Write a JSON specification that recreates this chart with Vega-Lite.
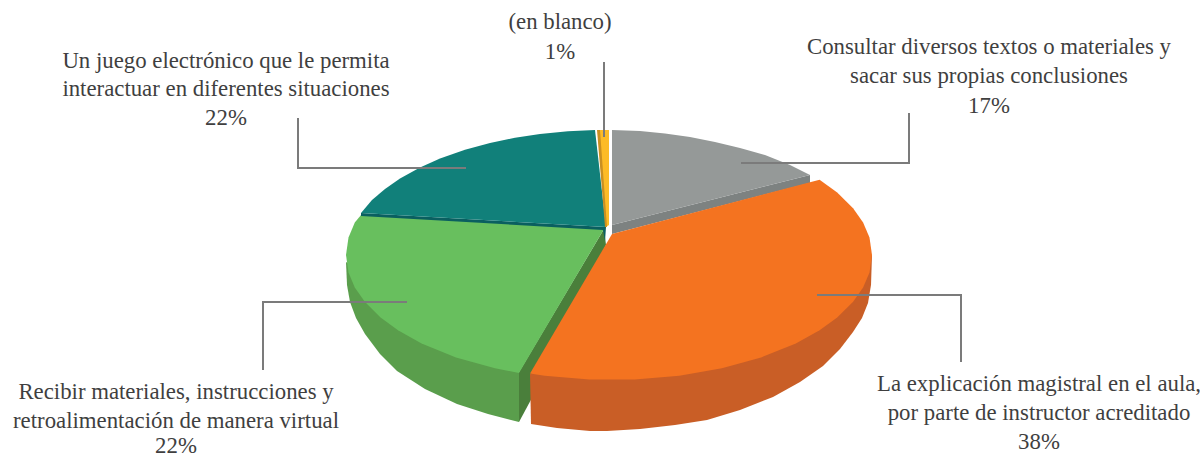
{
  "$schema": "https://vega.github.io/schema/vega-lite/v6.json",
  "width": 1200,
  "height": 459,
  "padding": 0,
  "autosize": "none",
  "background": "white",
  "view": {"stroke": null},
  "datasets": {
    "contornos": [
      {"pieza":"gris lateral","n":1,"x":612,"y":225},{"pieza":"gris lateral","n":2,"x":810,"y":175},{"pieza":"gris lateral","n":3,"x":810,"y":183},{"pieza":"gris lateral","n":4,"x":612,"y":234},
      {"pieza":"gris","n":1,"x":612,"y":130},{"pieza":"gris","n":2,"x":640,"y":131},{"pieza":"gris","n":3,"x":665,"y":133.5},{"pieza":"gris","n":4,"x":690,"y":137},{"pieza":"gris","n":5,"x":715,"y":142},{"pieza":"gris","n":6,"x":740,"y":148},{"pieza":"gris","n":7,"x":765,"y":155},{"pieza":"gris","n":8,"x":790,"y":165},{"pieza":"gris","n":9,"x":810,"y":175},{"pieza":"gris","n":10,"x":612,"y":225},
      {"pieza":"verde exterior","n":1,"x":346,"y":262},{"pieza":"verde exterior","n":2,"x":519,"y":372},{"pieza":"verde exterior","n":3,"x":519,"y":422},{"pieza":"verde exterior","n":4,"x":488,"y":414},{"pieza":"verde exterior","n":5,"x":457,"y":404},{"pieza":"verde exterior","n":6,"x":425,"y":389},{"pieza":"verde exterior","n":7,"x":397,"y":371},{"pieza":"verde exterior","n":8,"x":380,"y":354},{"pieza":"verde exterior","n":9,"x":365,"y":334},{"pieza":"verde exterior","n":10,"x":356,"y":318},{"pieza":"verde exterior","n":11,"x":350,"y":302},{"pieza":"verde exterior","n":12,"x":347,"y":285},
      {"pieza":"verde interior","n":1,"x":604,"y":229},{"pieza":"verde interior","n":2,"x":519,"y":372},{"pieza":"verde interior","n":3,"x":519,"y":422},{"pieza":"verde interior","n":4,"x":533,"y":396},{"pieza":"verde interior","n":5,"x":606,"y":245},
      {"pieza":"verde","n":1,"x":361,"y":215},{"pieza":"verde","n":2,"x":354.8,"y":222.6},{"pieza":"verde","n":3,"x":348.5,"y":237.6},{"pieza":"verde","n":4,"x":346,"y":255},{"pieza":"verde","n":5,"x":348.5,"y":272.4},{"pieza":"verde","n":6,"x":354.8,"y":287.4},{"pieza":"verde","n":7,"x":364.8,"y":301.8},{"pieza":"verde","n":8,"x":380.6,"y":317.5},{"pieza":"verde","n":9,"x":398,"y":330.2},{"pieza":"verde","n":10,"x":421.6,"y":343.4},{"pieza":"verde","n":11,"x":456,"y":357.4},{"pieza":"verde","n":12,"x":495,"y":368.3},{"pieza":"verde","n":13,"x":519,"y":373},{"pieza":"verde","n":14,"x":604,"y":229},
      {"pieza":"verde azulado lateral","n":1,"x":361,"y":213},{"pieza":"verde azulado lateral","n":2,"x":606,"y":227},{"pieza":"verde azulado lateral","n":3,"x":605,"y":241},{"pieza":"verde azulado lateral","n":4,"x":603,"y":230},{"pieza":"verde azulado lateral","n":5,"x":361,"y":216},
      {"pieza":"verde azulado","n":1,"x":595,"y":130},{"pieza":"verde azulado","n":2,"x":568,"y":131.2},{"pieza":"verde azulado","n":3,"x":540,"y":133.9},{"pieza":"verde azulado","n":4,"x":515,"y":137.7},{"pieza":"verde azulado","n":5,"x":490,"y":143},{"pieza":"verde azulado","n":6,"x":465,"y":149.7},{"pieza":"verde azulado","n":7,"x":440,"y":158.5},{"pieza":"verde azulado","n":8,"x":420,"y":167.4},{"pieza":"verde azulado","n":9,"x":400,"y":178.5},{"pieza":"verde azulado","n":10,"x":385,"y":188.9},{"pieza":"verde azulado","n":11,"x":372,"y":200},{"pieza":"verde azulado","n":12,"x":361,"y":213},{"pieza":"verde azulado","n":13,"x":606,"y":227},
      {"pieza":"naranja lateral","n":1,"x":872,"y":255},{"pieza":"naranja lateral","n":2,"x":530,"y":374},{"pieza":"naranja lateral","n":3,"x":531,"y":424},{"pieza":"naranja lateral","n":4,"x":557,"y":428},{"pieza":"naranja lateral","n":5,"x":590,"y":431},{"pieza":"naranja lateral","n":6,"x":607,"y":431},{"pieza":"naranja lateral","n":7,"x":640,"y":429},{"pieza":"naranja lateral","n":8,"x":675,"y":425},{"pieza":"naranja lateral","n":9,"x":707,"y":420},{"pieza":"naranja lateral","n":10,"x":740,"y":410},{"pieza":"naranja lateral","n":11,"x":773,"y":397},{"pieza":"naranja lateral","n":12,"x":800,"y":382},{"pieza":"naranja lateral","n":13,"x":823,"y":366},{"pieza":"naranja lateral","n":14,"x":840,"y":349},{"pieza":"naranja lateral","n":15,"x":853,"y":332},{"pieza":"naranja lateral","n":16,"x":862,"y":318},{"pieza":"naranja lateral","n":17,"x":868,"y":303},{"pieza":"naranja lateral","n":18,"x":871,"y":285},
      {"pieza":"naranja","n":1,"x":612,"y":234},{"pieza":"naranja","n":2,"x":819.6,"y":179.8},{"pieza":"naranja","n":3,"x":837.2,"y":192.5},{"pieza":"naranja","n":4,"x":853.1,"y":208.2},{"pieza":"naranja","n":5,"x":863.1,"y":222.6},{"pieza":"naranja","n":6,"x":869.5,"y":237.6},{"pieza":"naranja","n":7,"x":872,"y":255},{"pieza":"naranja","n":8,"x":869.5,"y":272.4},{"pieza":"naranja","n":9,"x":863.1,"y":287.4},{"pieza":"naranja","n":10,"x":853.1,"y":301.8},{"pieza":"naranja","n":11,"x":837.2,"y":317.5},{"pieza":"naranja","n":12,"x":819.6,"y":330.2},{"pieza":"naranja","n":13,"x":795.8,"y":343.4},{"pieza":"naranja","n":14,"x":761.1,"y":357.4},{"pieza":"naranja","n":15,"x":721.9,"y":368.3},{"pieza":"naranja","n":16,"x":679.3,"y":375.7},{"pieza":"naranja","n":17,"x":634.7,"y":379.5},{"pieza":"naranja","n":18,"x":589.3,"y":379.5},{"pieza":"naranja","n":19,"x":544.7,"y":375.7},{"pieza":"naranja","n":20,"x":530,"y":373.6},
      {"pieza":"amarillo","n":1,"x":599,"y":130},{"pieza":"amarillo","n":2,"x":609,"y":130},{"pieza":"amarillo","n":3,"x":609,"y":225},{"pieza":"amarillo","n":4,"x":606,"y":227},
      {"pieza":"amarillo lateral","n":1,"x":597,"y":130},{"pieza":"amarillo lateral","n":2,"x":600,"y":130},{"pieza":"amarillo lateral","n":3,"x":607,"y":227},{"pieza":"amarillo lateral","n":4,"x":605,"y":227}
    ],
    "guias": [
      {"guia":"gris","n":1,"x":741,"y":163},{"guia":"gris","n":2,"x":909,"y":163},{"guia":"gris","n":3,"x":909,"y":113},
      {"guia":"teal","n":1,"x":466,"y":168},{"guia":"teal","n":2,"x":298,"y":168},{"guia":"teal","n":3,"x":298,"y":118},
      {"guia":"verde","n":1,"x":407,"y":302},{"guia":"verde","n":2,"x":263,"y":302},{"guia":"verde","n":3,"x":263,"y":370},
      {"guia":"naranja","n":1,"x":817,"y":295},{"guia":"naranja","n":2,"x":961,"y":295},{"guia":"naranja","n":3,"x":961,"y":362},
      {"guia":"amarillo","n":1,"x":604,"y":137},{"guia":"amarillo","n":2,"x":604,"y":62}
    ],
    "rotulos": [
      {"texto":"(en blanco)","x":560,"y":29},{"texto":"1%","x":560,"y":59},
      {"texto":"Consultar diversos textos o materiales y","x":989,"y":54},{"texto":"sacar sus propias conclusiones","x":989,"y":83},{"texto":"17%","x":989,"y":113},
      {"texto":"Un juego electrónico que le permita","x":226,"y":68},{"texto":"interactuar en diferentes situaciones","x":226,"y":96},{"texto":"22%","x":226,"y":125},
      {"texto":"Recibir materiales, instrucciones y","x":176,"y":399},{"texto":"retroalimentación de manera virtual","x":176,"y":428},{"texto":"22%","x":176,"y":453},
      {"texto":"La explicación magistral en el aula,","x":1039,"y":391},{"texto":"por parte de instructor acreditado","x":1039,"y":420},{"texto":"38%","x":1039,"y":449}
    ]
  },
  "layer": [
    {
      "data": {"name": "contornos"},
      "mark": {"type": "line", "filled": true, "strokeWidth": 0, "clip": true},
      "encoding": {
        "x": {"field": "x", "type": "quantitative", "scale": {"domain": [0, 1200], "nice": false, "zero": false}, "axis": null},
        "y": {"field": "y", "type": "quantitative", "scale": {"domain": [459, 0], "nice": false, "zero": false}, "axis": null},
        "order": {"field": "n", "type": "quantitative"},
        "detail": {"field": "pieza"},
        "color": {
          "field": "pieza",
          "type": "nominal",
          "legend": null,
          "scale": {
            "domain": ["gris lateral","gris","verde exterior","verde interior","verde","verde azulado lateral","verde azulado","naranja lateral","naranja","amarillo","amarillo lateral"],
            "range": ["#7d8281","#959998","#5a9e4c","#4a7f3b","#68bf5e","#0a5f60","#11807a","#c95e26","#f47320","#fdbb26","#c98f22"]
          }
        }
      }
    },
    {
      "data": {"name": "guias"},
      "mark": {"type": "line", "color": "#7b7b7b", "strokeWidth": 2},
      "encoding": {
        "x": {"field": "x", "type": "quantitative"},
        "y": {"field": "y", "type": "quantitative"},
        "order": {"field": "n", "type": "quantitative"},
        "detail": {"field": "guia"}
      }
    },
    {
      "data": {"name": "rotulos"},
      "mark": {"type": "text", "font": "Liberation Serif", "fontSize": 22.8, "color": "#3f3f3f", "align": "center", "baseline": "alphabetic"},
      "encoding": {
        "x": {"field": "x", "type": "quantitative"},
        "y": {"field": "y", "type": "quantitative"},
        "text": {"field": "texto"}
      }
    }
  ]
}
